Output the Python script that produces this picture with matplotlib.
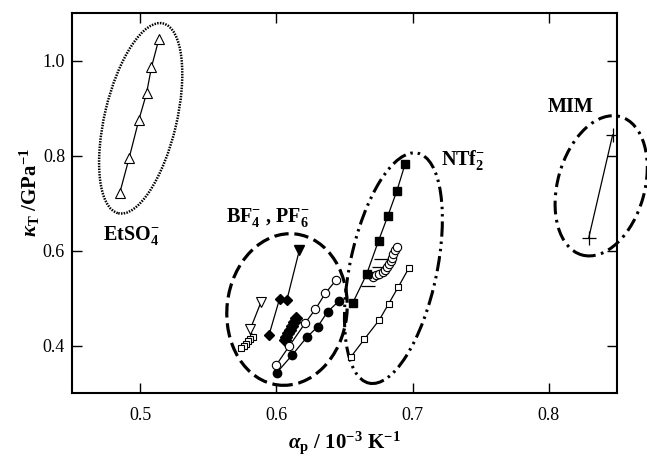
import numpy as np
import matplotlib
matplotlib.use("Agg")
import matplotlib.pyplot as plt
from matplotlib.patches import Ellipse
from matplotlib.transforms import ScaledTranslation

plt.rcParams["font.family"] = "Liberation Serif"
plt.rcParams["mathtext.fontset"] = "custom"
plt.rcParams["mathtext.rm"] = "Liberation Serif"
plt.rcParams["mathtext.it"] = "Liberation Serif:italic:bold"
plt.rcParams["mathtext.bf"] = "Liberation Serif:bold"

# EtSO4- (open up-triangles)
etso4_x = [0.4851, 0.4920, 0.4990, 0.5047, 0.5083, 0.5137]
etso4_y = [0.7217, 0.7955, 0.8744, 0.9308, 0.9857, 1.0446]

# BF4- / PF6- group
dtri_x = [0.5888, 0.5808]
dtri_y = [0.4920, 0.4341]
hsq_x = [0.5827, 0.5810, 0.5793, 0.5776, 0.5759, 0.5742]
hsq_y = [0.4185, 0.4136, 0.4088, 0.4038, 0.3990, 0.3941]
ftri_x = [0.6169, 0.6077]
ftri_y = [0.6010, 0.4958]
fdia_x = [0.6077, 0.6023, 0.5946]
fdia_y = [0.4958, 0.4978, 0.4221]
blob_x = [0.6145, 0.6130, 0.6116, 0.6101, 0.6088, 0.6074, 0.6060]
blob_y = [0.4571, 0.4489, 0.4418, 0.4336, 0.4264, 0.4182, 0.4110]
ocirc_x = [0.5999, 0.6096, 0.6213, 0.6286, 0.6359, 0.6438]
ocirc_y = [0.3589, 0.3995, 0.4480, 0.4762, 0.5098, 0.5378]
fcirc_x = [0.6003, 0.6116, 0.6223, 0.6303, 0.6376, 0.6462]
fcirc_y = [0.3427, 0.3800, 0.4173, 0.4396, 0.4712, 0.4943]

# NTf2- group
fsq_x = [0.6559, 0.6662, 0.6750, 0.6818, 0.6884, 0.6945]
fsq_y = [0.4888, 0.5498, 0.6206, 0.6727, 0.7253, 0.7822]
osq_x = [0.6548, 0.6645, 0.6755, 0.6823, 0.6896, 0.6974]
osq_y = [0.3765, 0.4131, 0.4537, 0.4874, 0.5238, 0.5638]
hline_x = [0.6671, 0.6711, 0.6730, 0.6750, 0.6765]
hline_y = [0.5258, 0.5422, 0.5556, 0.5658, 0.5822]
ntf_circ_x = [0.6706, 0.6731, 0.6755, 0.6779, 0.6799, 0.6815, 0.6830, 0.6840, 0.6850, 0.6859, 0.6870, 0.6885]
ntf_circ_y = [0.5448, 0.5484, 0.5505, 0.5540, 0.5590, 0.5646, 0.5709, 0.5779, 0.5848, 0.5926, 0.6010, 0.6079]

# MIM (plus)
mim_x = [0.8292, 0.8468]
mim_y = [0.6257, 0.8432]

# group ellipses: centre (data), width/height (inches), angle (deg), dash pattern
ell_centres = [(0.5004, 0.8783), (0.6078, 0.4758), (0.6859, 0.5628), (0.8384, 0.7362)]
ell_sizes = [(0.72, 1.95), (1.20, 1.52), (0.87, 2.35), (0.87, 1.435)]
ell_angles = [-13.3, -6.5, -11.9, -15.5]
ell_dashes = [(0.6, 0.5), (4.5, 1.8), (5, 1.6, 0.8, 1.6, 0.8, 1.6), (4.5, 1.8, 0.9, 1.8)]
ell_lw = [1.8, 2.3, 2.2, 2.2]

fig = plt.figure(figsize=(6.47, 4.57), dpi=100)
ax = fig.add_axes([0.1113, 0.1400, 0.8423, 0.8315])

line_kw = dict(color="black", lw=0.9)
ax.plot(etso4_x, etso4_y, marker="^", ms=6.5, mfc="white", mec="black", mew=0.8, **line_kw)
ax.plot(dtri_x + hsq_x[:1], dtri_y + hsq_y[:1], **line_kw)
ax.plot(hsq_x, hsq_y, ls="none", marker="s", ms=5, mfc="white", mec="black", mew=0.8)
ax.plot(dtri_x, dtri_y, ls="none", marker="v", ms=6.5, mfc="white", mec="black", mew=0.8)
ax.plot(ftri_x, ftri_y, marker="v", markevery=[0], ms=7, mfc="black", mec="black", **line_kw)
ax.plot(fdia_x, fdia_y, marker="D", ms=5.5, mfc="black", mec="black", **line_kw)
ax.plot(blob_x, blob_y, marker="D", ms=6, mfc="black", mec="black", **line_kw)
ax.plot(fcirc_x, fcirc_y, marker="o", ms=6, mfc="black", mec="black", **line_kw)
ax.plot(ocirc_x, ocirc_y, marker="o", ms=6, mfc="white", mec="black", mew=0.8, **line_kw)
ax.plot(osq_x, osq_y, marker="s", ms=5, mfc="white", mec="black", mew=0.8, **line_kw)
ax.plot(hline_x, hline_y, ls="none", marker="_", ms=10, mec="black", mew=0.9)
ax.plot(ntf_circ_x, ntf_circ_y, ls="none", marker="o", ms=6, mfc="white", mec="black", mew=0.8)
ax.plot(fsq_x, fsq_y, marker="s", ms=5.5, mfc="black", mec="black", **line_kw)
ax.plot(mim_x, mim_y, marker="+", ms=10, mew=0.9, **line_kw)

for (cx, cy), (w, h), ang, dash, lw in zip(ell_centres, ell_sizes, ell_angles, ell_dashes, ell_lw):
    tr = fig.dpi_scale_trans + ScaledTranslation(cx, cy, ax.transData)
    e = Ellipse((0, 0), w, h, angle=ang, transform=tr, fill=False,
                ec="black", lw=lw, linestyle=(0, dash), clip_on=False)
    ax.add_patch(e)

lab_kw = dict(fontsize=14.5, fontweight="bold", va="baseline", ha="left")
ax.text(0.4729, 0.6232, r"EtSO$_\mathbf{4}^\mathbf{-}$", **lab_kw)
ax.text(0.5627, 0.6607, r"BF$_\mathbf{4}^\mathbf{-}$ , PF$_\mathbf{6}^\mathbf{-}$", **lab_kw)
ax.text(0.7208, 0.7801, r"NTf$_\mathbf{2}^\mathbf{-}$", **lab_kw)
ax.text(0.7992, 0.8919, "MIM", **lab_kw)

ax.set_xlim(0.45, 0.85)
ax.set_ylim(0.30, 1.10)
ax.set_xticks([0.5, 0.6, 0.7, 0.8])
ax.set_xticklabels(["0.5", "0.6", "0.7", "0.8"])
ax.set_yticks([0.4, 0.6, 0.8, 1.0])
ax.set_yticklabels(["0.4", "0.6", "0.8", "1.0"])
ax.tick_params(direction="in", length=7, width=1, top=True, right=True, labelsize=13)
ax.tick_params(axis="x", pad=10)
ax.tick_params(axis="y", pad=5)
for sp in ax.spines.values():
    sp.set_linewidth(1.5)

ax.set_xlabel(r"$\alpha_\mathbf{p}\ \mathbf{/\ 10^{-3}\ K^{-1}}$", fontsize=15)
ax.set_ylabel(r"$\kappa_\mathbf{T}\ \mathbf{/GPa^{-1}}$", fontsize=15)
ax.xaxis.set_label_coords(0.5, -0.095)
ax.yaxis.set_label_coords(-0.055, 0.529)

fig.savefig("out.png", dpi=100)
